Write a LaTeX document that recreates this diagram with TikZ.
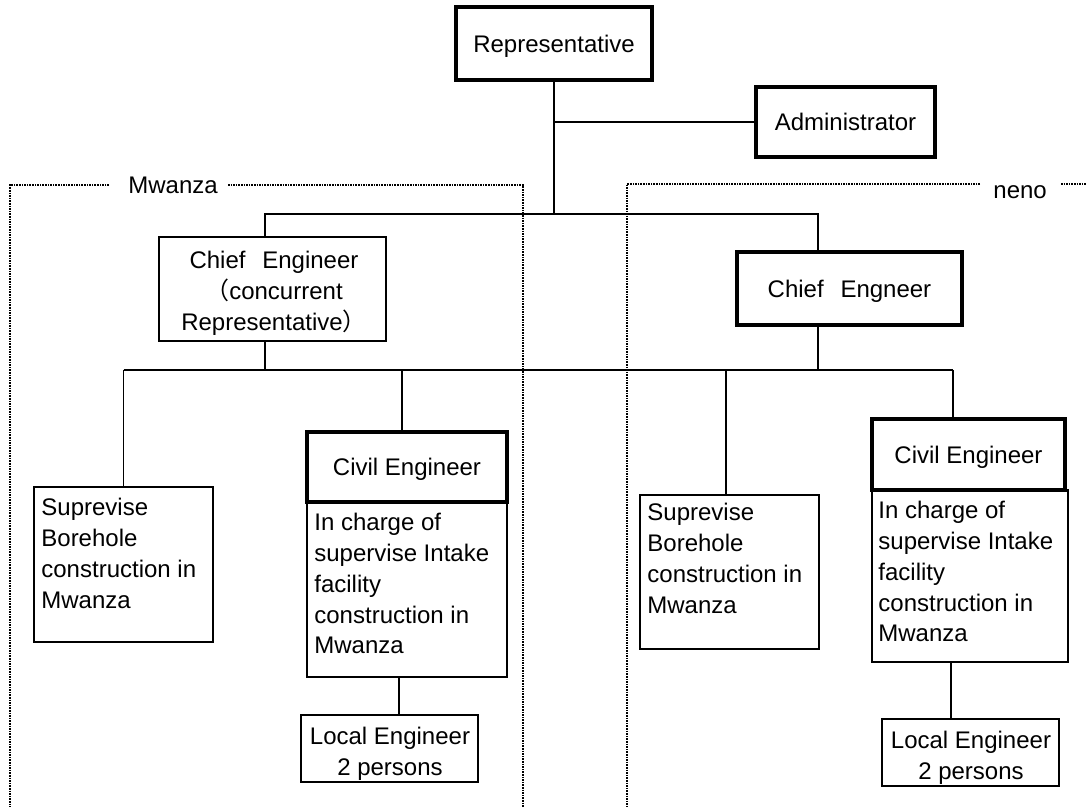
\documentclass[tikz,border=0pt]{standalone}
\usepackage{fontspec}
\setmainfont{Liberation Sans}
\newfontfamily\cjkfont{Noto Sans CJK JP}
\tikzstyle{chart font}=[font=\fontsize{12}{15.4}\selectfont]
\tikzstyle{post}=[draw, line width=0.7pt, inner sep=0pt, text depth=0pt, chart font]
\tikzstyle{key post}=[post, line width=1.8pt]
\tikzstyle{duty}=[align=left, inner sep=0pt, anchor=north west, chart font]
\tikzstyle{site label}=[inner sep=0pt, anchor=base west, chart font]
\tikzstyle{link}=[line width=0.6pt]
\tikzstyle{site frame}=[line width=0.6pt, dash pattern=on 0.8pt off 0.5pt]

\begin{document}
\begin{tikzpicture}[x=0.5pt, y=-0.5pt]
  \useasboundingbox (0,0) rectangle (1086,807);
  % site frames
  \draw[site frame] (109,185) -- (10,185) -- (10,807);
  \draw[site frame] (228,185) -- (523,185) -- (523,807);
  \draw[site frame] (980,184) -- (627,184) -- (627,807);
  \draw[site frame] (1061,184) -- (1086,184);
  \node[site label] (mwanza label) at (128,194) {Mwanza};
  \node[site label] (neno label) at (993,199) {neno};

  % head office
  \node[key post, minimum width=98pt, minimum height=36.5pt] (rep) at (554,43.5) {Representative};
  \node[key post, minimum width=89.5pt, minimum height=35pt] (admin) at (845.5,122) {Administrator};

  % chief engineers
  \node[post, minimum width=113.5pt, minimum height=52pt] (chiefL) at (272.5,289) {};
  \node[duty, anchor=north, align=center] (chiefL text) at (274,251)
    {Chief\hspace{0.7em}Engineer\\{\cjkfont （}concurrent\\Representative{\cjkfont ）}};
  \node[key post, minimum width=112.5pt, minimum height=36.5pt] (chiefR) at (849.5,288.5) {Chief\hspace{0.7em}Engneer};

  % Mwanza staff
  \node[post, minimum width=89.5pt, minimum height=77.5pt] (supL) at (123.5,564.5) {};
  \node[duty] (supL text) at (41,498) {Suprevise\\Borehole\\construction in\\Mwanza};
  \node[post, minimum width=100pt, minimum height=87.5pt] (civL body) at (407,589.5) {};
  \node[key post, minimum width=100pt, minimum height=35pt] (civL head) at (407,467) {Civil Engineer};
  \node[duty] (civL text) at (314,513) {In charge of\\supervise Intake\\facility\\construction in\\Mwanza};
  \node[post, minimum width=88.5pt, minimum height=33.5pt] (localL) at (389.5,748.5) {};
  \node[duty, anchor=north, align=center] (localL text) at (390,727) {Local Engineer\\2 persons};

  % neno staff
  \node[post, minimum width=89.5pt, minimum height=77pt] (supR) at (729.5,572) {};
  \node[duty] (supR text) at (647,503) {Suprevise\\Borehole\\construction in\\Mwanza};
  \node[post, minimum width=98pt, minimum height=86pt] (civR body) at (970,576) {};
  \node[key post, minimum width=96.5pt, minimum height=35.5pt] (civR head) at (968.5,454.5) {Civil Engineer};
  \node[duty] (civR text) at (878,501) {In charge of\\supervise Intake\\facility\\construction in\\Mwanza};
  \node[post, minimum width=88.5pt, minimum height=33.5pt] (localR) at (970.5,752.5) {};
  \node[duty, anchor=north, align=center] (localR text) at (971,731) {Local Engineer\\2 persons};

  % connectors
  \coordinate (top bus W) at (265,214);
  \coordinate (top bus E) at (818,214);
  \coordinate (low bus W) at (123.5,370);
  \coordinate (low bus E) at (953,370);
  \coordinate (tap civL) at (402,370);
  \coordinate (tap supR) at (726,370);
  \coordinate (drop L) at (399,696);
  \coordinate (drop R) at (951,690);
  \draw[link] (rep.south) -- (rep.south |- top bus W);
  \draw[link] (rep.south |- admin.west) -- (admin.west);
  \draw[link] (top bus W |- chiefL.north) -- (top bus W) -- (top bus E) -- (top bus E |- chiefR.north);
  \draw[link] (top bus W |- chiefL.south) -- (top bus W |- low bus W);
  \draw[link] (top bus E |- chiefR.south) -- (top bus E |- low bus W);
  \draw[link] (low bus W) -- (low bus E);
  \draw[link] (low bus W) -- (supL.north);
  \draw[link] (tap civL) -- (tap civL |- civL head.north);
  \draw[link] (tap supR) -- (tap supR |- supR.north);
  \draw[link] (low bus E) -- (low bus E |- civR head.north);
  \draw[link] (drop L |- civL body.south) -- (drop L |- localL.north);
  \draw[link] (drop R |- civR body.south) -- (drop R |- localR.north);
\end{tikzpicture}
\end{document}
